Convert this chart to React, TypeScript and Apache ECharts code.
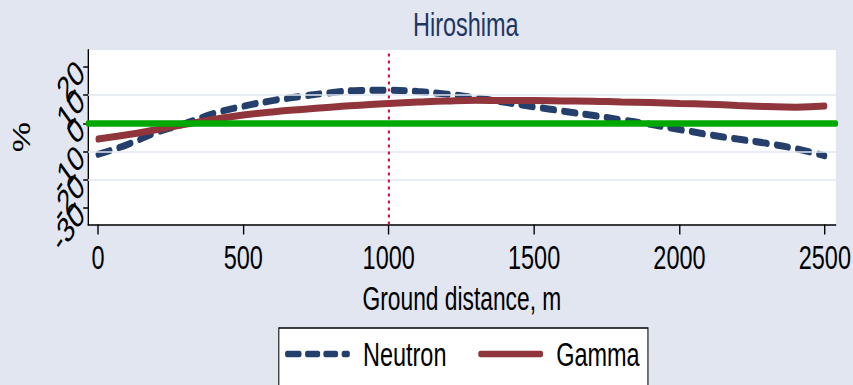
import React, { useEffect, useRef } from "react";
import * as echarts from "echarts";

// Ground distance (m) at which each value is read
const distance = [
  0, 100, 200, 300, 400, 500, 600, 700, 800, 900, 1000, 1100, 1200, 1300,
  1400, 1500, 1600, 1700, 1800, 1900, 2000, 2100, 2200, 2300, 2400, 2500,
];

// Percent difference, neutron component
const neutron = [
  -11.0, -7.6, -3.3, -0.1, 3.5, 6.0, 8.0, 9.5, 10.8, 11.6, 11.7, 11.2, 10.3,
  9.0, 7.4, 5.8, 4.3, 2.8, 1.2, -0.4, -2.2, -4.0, -5.6, -7.1, -9.0, -11.5,
];

// Percent difference, gamma component
const gamma = [
  -5.6, -4.1, -2.3, -0.4, 1.4, 2.9, 4.0, 4.9, 5.7, 6.4, 7.0, 7.5, 7.9, 8.1,
  8.0, 8.0, 7.9, 7.8, 7.5, 7.3, 7.0, 6.7, 6.3, 5.9, 5.7, 6.1,
];

const xTicks = [0, 500, 1000, 1500, 2000, 2500];
const yTicks = [-30, -20, -10, 0, 10, 20];
// labels split across two overlaid axes so that crowded rotated labels all stay visible
const yLabelsA = [-30, -10, 0, 20];
const yLabelsB = [-20, 10];
const yGrid = [10, -10, -20];
const refDistance = 1000;

const Y_MIN = -35.8;
const Y_MAX = 25.9;

const NEUTRON_COLOR = "#243f6b";
const GAMMA_COLOR = "#8f353b";

// The graph is laid out on a wider canvas and squeezed horizontally.
const OUT_W = 853;
const OUT_H = 385;
const CANVAS_W = 1236;
const SX = OUT_W / CANVAS_W;

const FONT = "'Liberation Sans', Arial, sans-serif";

// Legend keys drawn as rounded bars (width 94, thickness 6.5)
const KEY_H = 6.5;
function bar(a: number, b: number): string {
  const r = KEY_H / 2;
  return `M${a + r},0 H${b - r} A${r},${r} 0 0 1 ${b - r},${KEY_H} H${a + r} A${r},${r} 0 0 1 ${a + r},0 Z`;
}
const dashedKey = "path://" + [bar(0, 24), bar(29, 51), bar(55.5, 77), bar(82, 94)].join(" ");
const solidKey = "path://" + bar(0, 94);

const yLabelStyle = {
  rotate: 46,
  margin: 11,
  interval: 0,
  hideOverlap: false,
  showMinLabel: true,
  showMaxLabel: true,
  fontFamily: FONT,
  fontSize: 36,
  color: "#000000",
  formatter: (v: number) => String(v),
};

export default function App() {
  const ref = useRef<HTMLDivElement>(null);

  useEffect(() => {
    if (!ref.current) return;
    const chart = echarts.init(ref.current, null, { renderer: "svg" });

    const toPairs = (ys: number[]) => distance.map((d, i) => [d, ys[i]]);

    chart.setOption({
      animation: false,
      backgroundColor: "#e1e6f1",
      textStyle: { fontFamily: FONT },
      title: {
        text: "Hiroshima",
        left: 670,
        textAlign: "center",
        top: 2,
        textStyle: {
          fontFamily: FONT,
          fontSize: 34,
          fontWeight: "normal",
          color: "#1f3563",
        },
      },
      grid: {
        left: 127.5,
        right: 23.2,
        top: 50,
        bottom: 160.5,
        show: true,
        backgroundColor: "#ffffff",
        borderWidth: 0,
      },
      legend: {
        data: [
          { name: "Neutron", icon: dashedKey, itemStyle: { color: NEUTRON_COLOR } },
          { name: "Gamma", icon: solidKey, itemStyle: { color: GAMMA_COLOR } },
        ],
        left: 404,
        top: 328,
        orient: "horizontal",
        backgroundColor: "#ffffff",
        borderColor: "#000000",
        borderWidth: 1.5,
        borderRadius: 0,
        padding: [9, 12, 40, 9],
        itemWidth: 94,
        itemHeight: KEY_H,
        itemGap: 46,
        textStyle: {
          fontFamily: FONT,
          fontSize: 34,
          color: "#000000",
          padding: [0, 0, 0, 14],
        },
      },
      xAxis: {
        type: "value",
        min: -34.3,
        max: 2537.8,
        name: "Ground distance, m",
        nameLocation: "middle",
        nameGap: 57,
        nameTextStyle: { fontFamily: FONT, fontSize: 33, color: "#000000" },
        axisLine: {
          show: true,
          onZero: false,
          lineStyle: { color: "#000000", width: 1.5 },
        },
        axisTick: {
          show: true,
          length: 10,
          customValues: xTicks,
          lineStyle: { color: "#000000", width: 2 },
        },
        axisLabel: {
          customValues: xTicks,
          margin: 16,
          interval: 0,
          hideOverlap: false,
          fontFamily: FONT,
          fontSize: 34,
          color: "#000000",
          formatter: (v: number) => String(v),
        },
        splitLine: { show: false },
      },
      yAxis: [
        {
          type: "value",
          min: Y_MIN,
          max: Y_MAX,
          position: "left",
          name: "%",
          nameLocation: "middle",
          nameRotate: 90,
          nameGap: 78,
          nameTextStyle: { fontFamily: FONT, fontSize: 34, color: "#000000" },
          axisLine: {
            show: true,
            onZero: false,
            lineStyle: { color: "#000000", width: 2 },
          },
          axisTick: {
            show: true,
            length: 7,
            customValues: yTicks,
            lineStyle: { color: "#000000", width: 1.5 },
          },
          axisLabel: { ...yLabelStyle, customValues: yLabelsA },
          splitLine: { show: false },
        },
        {
          type: "value",
          min: Y_MIN,
          max: Y_MAX,
          position: "left",
          offset: 0,
          axisLine: { show: false, onZero: false },
          axisTick: { show: false },
          axisLabel: { ...yLabelStyle, customValues: yLabelsB },
          splitLine: { show: false },
        },
      ],
      series: [
        {
          // reference lines beneath the curves
          name: "ref",
          type: "line",
          data: [],
          z: 1,
          silent: true,
          markLine: {
            silent: true,
            symbol: ["none", "none"],
            label: { show: false },
            animation: false,
            data: [
              ...yGrid.map((v) => ({
                yAxis: v,
                lineStyle: { color: "#e1e6f1", width: 1.5, type: "solid" },
              })),
              {
                xAxis: refDistance,
                lineStyle: {
                  color: "#d0103a",
                  width: 3,
                  type: [3, 4],
                },
              },
              {
                yAxis: 0,
                lineStyle: {
                  color: "#00a800",
                  width: 6.5,
                  type: "solid",
                  cap: "round",
                },
              },
            ],
          },
        },
        {
          name: "Neutron",
          type: "line",
          data: toPairs(neutron),
          smooth: true,
          showSymbol: false,
          symbol: "none",
          z: 3,
          lineStyle: {
            color: NEUTRON_COLOR,
            width: 7,
            type: [18, 13],
            cap: "round",
          },
          itemStyle: { color: NEUTRON_COLOR },
        },
        {
          name: "Gamma",
          type: "line",
          data: toPairs(gamma),
          smooth: true,
          showSymbol: false,
          symbol: "none",
          z: 4,
          lineStyle: { color: GAMMA_COLOR, width: 7, cap: "round" },
          itemStyle: { color: GAMMA_COLOR },
        },
      ],
    });

    return () => chart.dispose();
  }, []);

  return (
    <div
      ref={ref}
      style={{
        position: "fixed",
        left: 0,
        top: 0,
        width: CANVAS_W,
        height: OUT_H,
        transform: `scaleX(${SX})`,
        transformOrigin: "0 0",
      }}
    />
  );
}
